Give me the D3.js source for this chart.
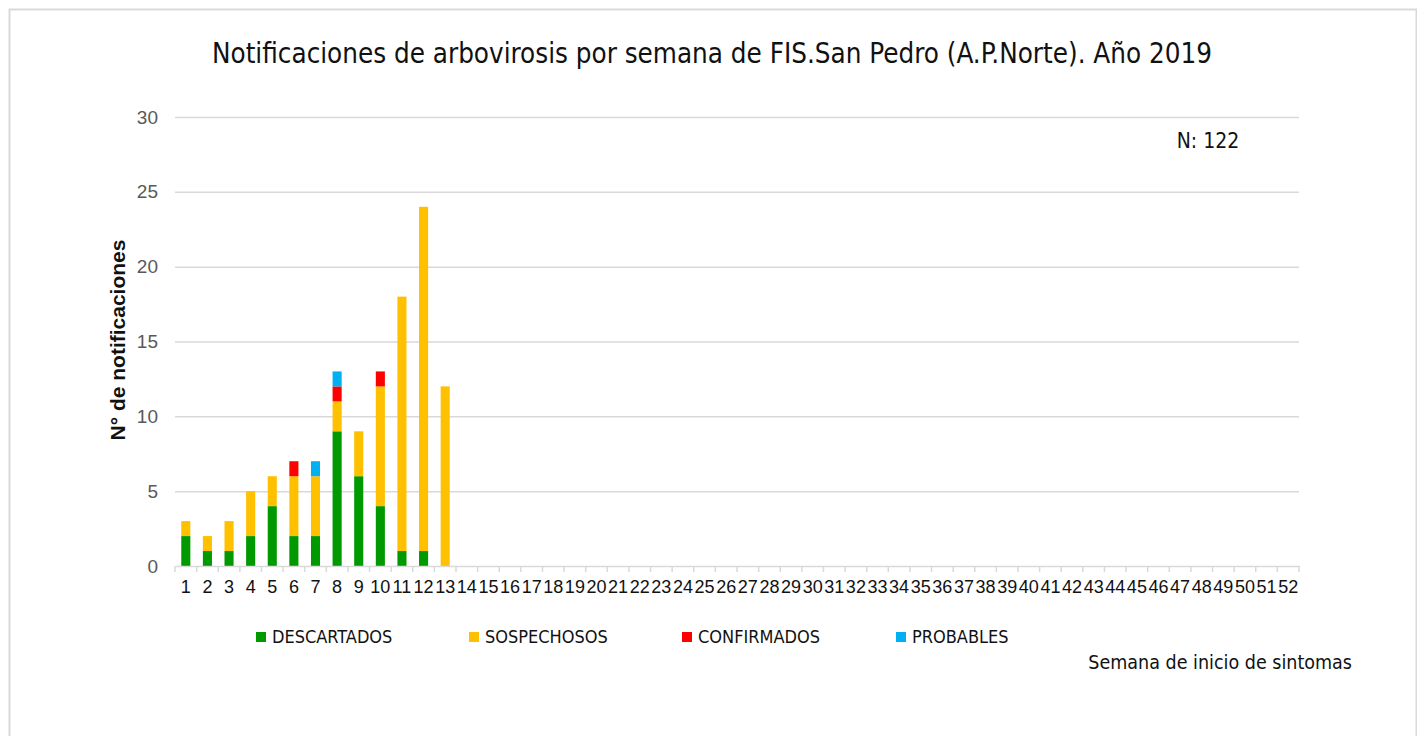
<!DOCTYPE html>
<html>
<head>
  <meta charset="utf8">
  <title>Notificaciones de arbovirosis</title>
  <style type="text/css">
    body { margin: 0; background: #fff; font-family: "Liberation Sans Narrow", "DejaVu Sans Condensed", "Liberation Sans", sans-serif; }
    .grid line { stroke: #d9d9d9; stroke-width: 1.5; }
    .grid path { display: none; }
    .yaxis text { fill: #595959; font-size: 19px; }
    .yaxis path, .yaxis line { display: none; }
    .xaxis path { stroke: #d9d9d9; stroke-width: 1.5; }
    .xaxis line { stroke: #d9d9d9; stroke-width: 1.5; }
    .xaxis text { fill: #111; font-size: 18px; }
  </style>
</head>
<body>

<script src="https://d3js.org/d3.v7.min.js"></script>

<script type="text/javascript">

var weeks = d3.range(1, 53)

var descartados = [2, 1, 1, 2, 4, 2, 2, 9, 6, 4, 1, 1, 0]
var sospechosos = [1, 1, 2, 3, 2, 4, 4, 2, 3, 8, 17, 23, 12]
var confirmados = [0, 0, 0, 0, 0, 1, 0, 1, 0, 1, 0, 0, 0]
var probables  = [0, 0, 0, 0, 0, 0, 1, 1, 0, 0, 0, 0, 0]

var seriesNames = ['DESCARTADOS', 'SOSPECHOSOS', 'CONFIRMADOS', 'PROBABLES']
var seriesColors = ['#009900', '#ffc000', '#ff0000', '#00b0f0']
var yTicks = [0, 5, 10, 15, 20, 25, 30]

var width = 1417, height = 736
var margin = { left: 175, right: 118, top: 117, bottom: 170 }

var rows = weeks.map(function(w, i) {
  return {
    week: w,
    DESCARTADOS: descartados[i] || 0,
    SOSPECHOSOS: sospechosos[i] || 0,
    CONFIRMADOS: confirmados[i] || 0,
    PROBABLES: probables[i] || 0
  }
})

var svg = d3.select('body').append('svg')
    .attr('width', width)
    .attr('height', height)

// chart border
svg.append('rect')
    .attr('x', 9.5).attr('y', 9.5)
    .attr('width', width - 10).attr('height', height + 20)
    .attr('fill', 'none')
    .attr('stroke', '#d9d9d9')
    .attr('stroke-width', 2)

var x = d3.scaleBand()
    .domain(weeks)
    .range([margin.left, width - margin.right])
    .paddingInner(0.58)
    .paddingOuter(0.29)

var xb = d3.scaleBand()
    .domain(weeks)
    .range([margin.left, width - margin.right])

var y = d3.scaleLinear()
    .domain([0, 30])
    .range([height - margin.bottom, margin.top])

svg.append('g')
    .attr('class', 'grid')
    .attr('transform', 'translate(' + margin.left + ',0)')
    .call(d3.axisLeft(y).tickValues(yTicks.slice(1)).tickSize(-(width - margin.left - margin.right)).tickFormat(''))

svg.append('g')
    .attr('class', 'yaxis')
    .attr('transform', 'translate(' + (margin.left - 14) + ',0)')
    .call(d3.axisLeft(y).tickValues(yTicks).tickSize(0))

var stack = d3.stack().keys(seriesNames)(rows)

svg.append('g').selectAll('g')
  .data(stack)
  .enter().append('g')
    .attr('fill', function(d, i) { return seriesColors[i] })
  .selectAll('rect')
  .data(function(d) { return d })
  .enter().append('rect')
    .attr('x', function(d) { return x(d.data.week) })
    .attr('width', x.bandwidth())
    .attr('y', function(d) { return y(d[1]) })
    .attr('height', function(d) { return y(d[0]) - y(d[1]) })

// x axis: ticks at band boundaries
var xAxis = svg.append('g')
    .attr('class', 'xaxis')
    .attr('transform', 'translate(0,' + (height - margin.bottom) + ')')
    .call(d3.axisBottom(xb).tickSize(0).tickSizeOuter(0).tickPadding(20))

xAxis.selectAll('.tick text').attr('dy', '0.4em')

xAxis.selectAll('.bound')
  .data(weeks.concat([53]))
  .enter().append('line')
    .attr('x1', function(d) { return margin.left + (d - 1) * xb.step() })
    .attr('x2', function(d) { return margin.left + (d - 1) * xb.step() })
    .attr('y1', 0).attr('y2', 6)

svg.append('text')
    .attr('x', 712).attr('y', 63)
    .attr('text-anchor', 'middle')
    .attr('font-size', 29)
    .attr('fill', '#111')
    .attr('textLength', 1000)
    .attr('lengthAdjust', 'spacingAndGlyphs')
    .text('Notificaciones de arbovirosis por semana de FIS.San Pedro (A.P.Norte). Año 2019')

svg.append('text')
    .attr('transform', 'translate(125,340) rotate(-90)')
    .attr('text-anchor', 'middle')
    .attr('font-size', 21)
    .attr('font-weight', 'bold')
    .attr('fill', '#111')
    .attr('font-family', 'Liberation Sans, sans-serif')
    .text('N° de notificaciones')

svg.append('text')
    .attr('x', 1208).attr('y', 148)
    .attr('text-anchor', 'middle')
    .attr('font-size', 21)
    .attr('fill', '#111')
    .text('N: 122')

svg.append('text')
    .attr('x', 1352).attr('y', 669)
    .attr('text-anchor', 'end')
    .attr('font-size', 19.5)
    .attr('fill', '#111')
    .text('Semana de inicio de sintomas')

var legendX = [256, 469, 682, 896]
var legend = svg.append('g').selectAll('g')
  .data(seriesNames)
  .enter().append('g')
    .attr('transform', function(d, i) { return 'translate(' + legendX[i] + ',632)' })

legend.append('rect')
    .attr('x', 0).attr('y', 0)
    .attr('width', 10).attr('height', 10)
    .attr('fill', function(d, i) { return seriesColors[i] })

legend.append('text')
    .attr('x', 16).attr('y', 11)
    .attr('font-size', 18)
    .attr('fill', '#111')
    .text(function(d) { return d })

</script>

</body>
</html>
